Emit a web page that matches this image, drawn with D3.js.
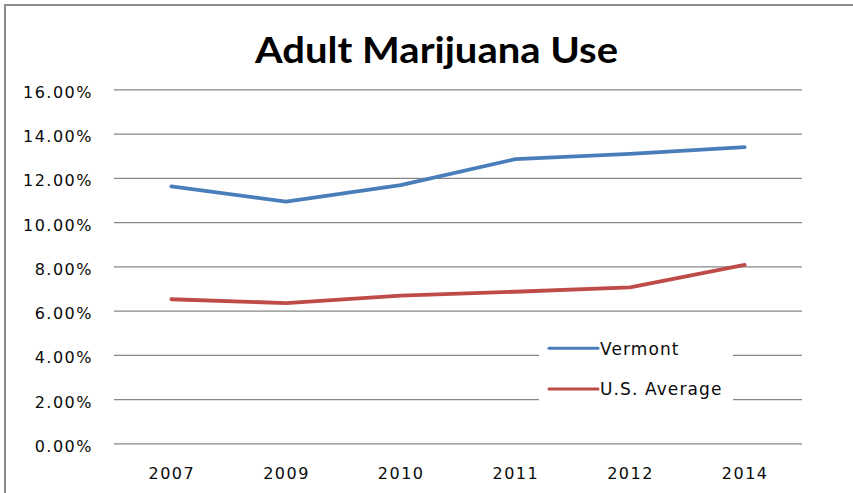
<!DOCTYPE html>
<html>
<head>
<meta charset="utf-8">
<script src="https://cdn.jsdelivr.net/npm/d3@7"></script>
<style>
  html, body { margin: 0; padding: 0; background: #fff; }
  svg { display: block; }
</style>
</head>
<body>
<svg id="chart" width="853" height="493"></svg>
<script>
const years = ["2007", "2009", "2010", "2011", "2012", "2014"];
const vermont = [0.1161, 0.1092, 0.1167, 0.1284, 0.1308, 0.1339];
const usAverage = [0.0651, 0.0634, 0.0667, 0.0685, 0.0705, 0.0806];
const yTicks = [0, 0.02, 0.04, 0.06, 0.08, 0.10, 0.12, 0.14, 0.16];
const seriesNames = ["Vermont", "U.S. Average"];
const title = "Adult Marijuana Use";

const svg = d3.select("#chart");
const W = 853, H = 493;
const plotLeft = 114, plotRight = 802, plotTop = 89.3, plotBottom = 443.3;

svg.append("rect").attr("width", W).attr("height", H).attr("fill", "#fff");
svg.append("rect").attr("x", 5).attr("y", 5).attr("width", 870).attr("height", 520)
  .attr("fill", "none").attr("stroke", "#8a8a8a").attr("stroke-width", 2);

svg.append("text").text(title)
  .attr("x", 255).attr("y", 62.5)
  .attr("textLength", 363).attr("lengthAdjust", "spacingAndGlyphs")
  .attr("font-family", "Lato, 'Open Sans', sans-serif")
  .attr("font-weight", "bold").attr("font-size", 37).attr("fill", "#000");

const x = d3.scalePoint().domain(years).range([plotLeft, plotRight]).padding(0.5);
const y = d3.scaleLinear().domain([0, 0.16]).range([plotBottom, plotTop]);

const fmt = d3.format(".2%");
const yAxis = svg.append("g").attr("transform", `translate(${plotLeft},0)`)
  .call(d3.axisLeft(y).tickValues(yTicks).tickFormat(fmt).tickSize(-(plotRight - plotLeft)).tickPadding(21));
yAxis.select(".domain").remove();
yAxis.selectAll(".tick line").attr("stroke", "#868686").attr("stroke-width", 1.2);
yAxis.selectAll(".tick text")
  .attr("font-family", "'DejaVu Sans', sans-serif").attr("font-size", 16)
  .attr("letter-spacing", 1.5).attr("fill", "#0a0a0a").attr("dy", "0.5em");

const xAxis = svg.append("g").attr("transform", `translate(0,${plotBottom})`)
  .call(d3.axisBottom(x).tickSize(0).tickPadding(22));
xAxis.select(".domain").remove();
xAxis.selectAll(".tick text")
  .attr("font-family", "'DejaVu Sans', sans-serif").attr("font-size", 16)
  .attr("letter-spacing", 1.5).attr("fill", "#0a0a0a").attr("dy", "0.85em");

const line = d3.line().x((d, i) => x(years[i])).y(d => y(d));
const colors = ["#4a7ebb", "#be4b48"];
[vermont, usAverage].forEach((s, k) => {
  svg.append("path").datum(s).attr("d", line)
    .attr("fill", "none").attr("stroke", colors[k]).attr("stroke-width", 3.8)
    .attr("stroke-linejoin", "round").attr("stroke-linecap", "round");
});

// legend
const lg = svg.append("g");
lg.append("rect").attr("x", 539).attr("y", 322).attr("width", 194).attr("height", 95).attr("fill", "#fff");
const legY = [348.3, 389];
seriesNames.forEach((n, k) => {
  lg.append("line").attr("x1", 549).attr("x2", 598).attr("y1", legY[k]).attr("y2", legY[k])
    .attr("stroke", colors[k]).attr("stroke-width", 3).attr("stroke-linecap", "round");
  lg.append("text").text(n).attr("x", 600).attr("y", legY[k] + 6.3)
    .attr("font-family", "'DejaVu Sans', sans-serif").attr("font-size", 17)
    .attr("letter-spacing", 1.1).attr("fill", "#0a0a0a");
});
</script>
</body>
</html>
